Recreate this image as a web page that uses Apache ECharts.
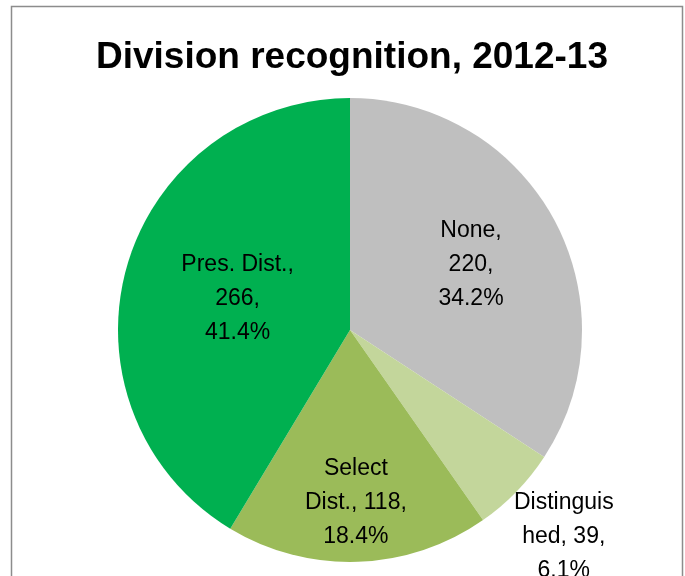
<!DOCTYPE html>
<html>
<head>
<meta charset="utf-8">
<script src="https://cdn.jsdelivr.net/npm/echarts@6/dist/echarts.min.js"></script>
<style>
html,body{margin:0;padding:0;background:#fff;}
#c{width:685px;height:576px;}
</style>
</head>
<body>
<div id="c"></div>
<script>
var categories = ['None', 'Distinguished', 'Select Dist.', 'Pres. Dist.'];
var values = [220, 39, 118, 266];
var percents = ['34.2%', '6.1%', '18.4%', '41.4%'];
var labelTexts = ['None,\n220,\n34.2%', 'Distinguis\nhed, 39,\n6.1%', 'Select\nDist., 118,\n18.4%', 'Pres. Dist.,\n266,\n41.4%'];
var colors = ['#BFBFBF', '#C3D69B', '#9BBB59', '#00B050'];
// label distance from centre as a fraction of the pie radius (Excel best-fit placement)
var labelRadiusFactor = [0.58, 1.27, 0.73, 0.49];

var R = 232;
var FONT = 'Liberation Sans';

function makeData(showIdx, transparent) {
  return categories.map(function (c, i) {
    return {
      name: c,
      value: values[i],
      itemStyle: { color: transparent ? 'rgba(0,0,0,0)' : colors[i] },
      label: { show: i === showIdx, formatter: labelTexts[i] }
    };
  });
}

var series = [{
  type: 'pie',
  center: [350, 330],
  radius: [0, R],
  startAngle: 90,
  clockwise: true,
  silent: true,
  label: { show: false },
  labelLine: { show: false },
  data: categories.map(function (c, i) {
    return { name: c, value: values[i], itemStyle: { color: colors[i] } };
  })
}];

categories.forEach(function (c, i) {
  series.push({
    type: 'pie',
    center: [350, 330],
    radius: [0, 2 * R * labelRadiusFactor[i]],
    startAngle: 90,
    clockwise: true,
    silent: true,
    z: 3,
    label: {
      show: true,
      position: 'inside',
      color: '#000',
      fontFamily: FONT,
      fontSize: 23,
      lineHeight: 34,
      align: 'center'
    },
    labelLine: { show: false },
    data: makeData(i, true)
  });
});

var chart = echarts.init(document.getElementById('c'));
chart.setOption({
  animation: false,
  backgroundColor: '#fff',
  title: {
    text: 'Division recognition, 2012-13',
    left: 347,
    textAlign: 'center',
    top: 34,
    textStyle: { fontFamily: FONT, fontWeight: 'bold', fontSize: 37, color: '#000' }
  },
  graphic: [{
    type: 'rect',
    shape: { x: 11.5, y: 6.5, width: 671, height: 600 },
    style: { fill: 'none', stroke: '#8c8c8c', lineWidth: 1.5 },
    silent: true,
    z: 100
  }],
  series: series
});
</script>
</body>
</html>
